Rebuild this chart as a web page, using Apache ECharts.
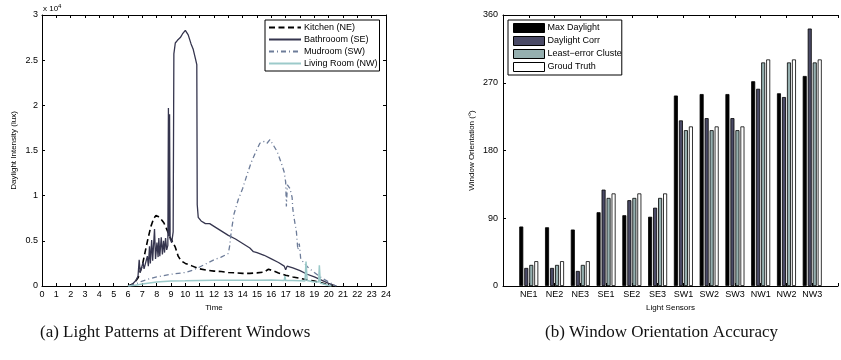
<!DOCTYPE html>
<html>
<head>
<meta charset="utf-8">
<script src="https://cdn.jsdelivr.net/npm/echarts@6/dist/echarts.min.js"></script>
<style>
  html, body { margin: 0; padding: 0; background: #fff; }
  #chart { width: 841px; height: 360px; }
</style>
</head>
<body>
<div id="chart"></div>
<script>
// ---- left panel: daylight per window (time in hours, lux) ----
const kitchenTime = [6.0, 6.4, 6.7, 7.0, 7.2, 7.4, 7.6, 7.8, 7.95, 8.1, 8.3, 8.5, 8.7, 8.9, 9.1, 9.3, 9.5, 9.7, 10.0, 10.5, 11.0, 11.5, 12.0, 12.5, 13.0, 13.5, 14.0, 14.5, 15.0, 15.5, 15.8, 16.1, 16.5, 17.0, 17.5, 18.0, 18.5, 19.0, 19.5, 20.0, 20.3];
const kitchenLux = [0, 250, 900, 2300, 3800, 5300, 6600, 7500, 7800, 7700, 7400, 7000, 6300, 5500, 4900, 4300, 3300, 2800, 2500, 2200, 1900, 1750, 1650, 1600, 1500, 1450, 1400, 1400, 1450, 1550, 1850, 1700, 1450, 1200, 1000, 850, 700, 550, 350, 120, 0];

const bathroomTime = [6.04, 6.3, 6.55, 6.7, 6.78, 6.85, 6.95, 7.05, 7.12, 7.25, 7.35, 7.42, 7.5, 7.56, 7.65, 7.72, 7.85, 7.92, 8.02, 8.1, 8.15, 8.22, 8.32, 8.4, 8.48, 8.55, 8.62, 8.7, 8.78, 8.82, 8.86, 8.9, 8.94, 9.05, 9.15, 9.2, 9.3, 9.45, 9.65, 9.8, 10.0, 10.1, 10.2, 10.4, 10.55, 10.7, 10.8, 10.83, 10.9, 11.1, 11.4, 11.7, 12.0, 12.5, 13.0, 13.5, 14.0, 14.5, 14.75, 15.0, 15.5, 16.0, 16.5, 16.9, 17.0, 17.1, 17.5, 18.0, 18.5, 19.0, 19.5, 20.0, 20.55];
const bathroomLux = [0, 200, 600, 1100, 2900, 1500, 1700, 2600, 1900, 2100, 3300, 2200, 4400, 2500, 5100, 2800, 6300, 3000, 4800, 3200, 5300, 3300, 5400, 3500, 5000, 3700, 5300, 4000, 4500, 19700, 5500, 19000, 5200, 4800, 6000, 25700, 26900, 27200, 27500, 27900, 28300, 28100, 27800, 26800, 26200, 25200, 24500, 9000, 7600, 7200, 6900, 6900, 6600, 6100, 5600, 5200, 4700, 4200, 3800, 3700, 3400, 3000, 2600, 2200, 1800, 2200, 2000, 1700, 1300, 1000, 650, 300, 0];

const mudroomTime = [6.1, 6.5, 7.0, 7.5, 8.0, 8.5, 9.0, 9.5, 10.0, 10.5, 11.0, 11.5, 12.0, 12.5, 13.0, 13.1, 13.2, 13.4, 13.7, 14.0, 14.3, 14.6, 14.9, 15.2, 15.5, 15.7, 15.9, 16.1, 16.4, 16.7, 16.9, 17.0, 17.05, 17.12, 17.3, 17.45, 17.5, 17.6, 17.75, 17.85, 17.95, 18.05, 18.3, 18.6, 19.0, 19.5, 20.0, 20.5];
const mudroomLux = [0, 200, 550, 800, 1000, 1150, 1300, 1400, 1500, 1750, 2100, 2500, 2900, 3200, 3600, 4500, 6000, 8000, 9600, 10800, 12300, 13700, 14800, 15800, 16000, 15800, 16200, 15700, 14900, 13600, 12600, 11500, 8800, 11200, 10800, 9800, 8500, 7400, 6000, 4000, 4700, 3000, 2500, 2000, 1500, 900, 450, 0];

const livingTime = [6.0, 6.5, 7.0, 7.5, 8.0, 8.5, 9.0, 10.0, 11.0, 12.0, 13.0, 14.0, 15.0, 16.0, 16.9, 16.95, 17.0, 17.5, 18.0, 18.35, 18.42, 18.5, 18.9, 19.0, 19.3, 19.35, 19.42, 19.7, 20.0, 20.2];
const livingLux = [0, 80, 220, 330, 430, 500, 550, 580, 620, 640, 650, 650, 650, 660, 620, 1100, 600, 600, 580, 560, 2700, 600, 480, 500, 450, 2300, 320, 200, 60, 0];

// ---- right panel: orientation estimates per sensor (degrees) ----
const sensors = ['NE1', 'NE2', 'NE3', 'SE1', 'SE2', 'SE3', 'SW1', 'SW2', 'SW3', 'NW1', 'NW2', 'NW3'];
const maxDaylight = [79, 78, 75, 98, 94, 92, 253, 255, 255, 272, 256, 279];
const daylightCorr = [24, 24, 20, 128, 114, 104, 220, 223, 223, 262, 251, 342];
const leastErrorCluster = [28, 28, 28, 117, 117, 117, 207, 207, 207, 297, 297, 297];
const groundTruth = [33, 33, 33, 123, 123, 123, 212, 212, 212, 301, 301, 301];

const FONT = 'Liberation Sans, Arial, sans-serif';

function pairs(xs, ys) {
    return xs.map((x, i) => [x, ys[i]]);
}

function barData(values) {
    return values.map((v, i) => [i + 1, v]);
}

const tickStyle = {show: true, inside: true, length: 3, lineStyle: {color: '#000', width: 1}};
const lineAxis = {show: true, onZero: false, lineStyle: {color: '#000', width: 1}};
const labelStyle = {color: '#000', fontSize: 9, fontFamily: FONT};

var chart = echarts.init(document.getElementById('chart'));

var option = {
    animation: false,
    backgroundColor: '#fff',
    grid: [
        {left: 42, top: 15, width: 344, height: 271},
        {left: 503, top: 15, width: 343, height: 271}
    ],
    xAxis: [
        {
            gridIndex: 0, type: 'value', min: 0, max: 24, interval: 1,
            axisLine: lineAxis, axisTick: tickStyle, splitLine: {show: false},
            axisLabel: Object.assign({margin: 4}, labelStyle),
            name: 'Time', nameLocation: 'middle', nameGap: 17,
            nameTextStyle: {color: '#000', fontSize: 8, fontFamily: FONT}
        },
        {
            gridIndex: 0, type: 'value', min: 0, max: 24, interval: 1, position: 'top',
            axisLine: lineAxis, axisTick: tickStyle, axisLabel: {show: false}, splitLine: {show: false}
        },
        {
            gridIndex: 1, type: 'value', min: 0, max: 13, interval: 1,
            axisLine: lineAxis, axisTick: tickStyle, splitLine: {show: false},
            axisLabel: Object.assign({
                margin: 4,
                formatter: v => sensors[v - 1] || ''
            }, labelStyle),
            name: 'Light Sensors', nameLocation: 'middle', nameGap: 17,
            nameTextStyle: {color: '#000', fontSize: 8, fontFamily: FONT}
        },
        {
            gridIndex: 1, type: 'value', min: 0, max: 13, interval: 1, position: 'top',
            axisLine: lineAxis, axisTick: tickStyle, axisLabel: {show: false}, splitLine: {show: false}
        }
    ],
    yAxis: [
        {
            gridIndex: 0, type: 'value', min: 0, max: 30000, interval: 5000,
            axisLine: lineAxis, axisTick: tickStyle, splitLine: {show: false},
            axisLabel: Object.assign({margin: 4, formatter: v => String(v / 10000)}, labelStyle),
            name: 'Daylight Intensity (lux)', nameLocation: 'middle', nameGap: 24,
            nameTextStyle: {color: '#000', fontSize: 8, fontFamily: FONT}
        },
        {
            gridIndex: 0, type: 'value', min: 0, max: 30000, interval: 5000, position: 'right',
            axisLine: lineAxis, axisTick: tickStyle, axisLabel: {show: false}, splitLine: {show: false}
        },
        {
            gridIndex: 1, type: 'value', min: 0, max: 360, interval: 90,
            axisLine: lineAxis, axisTick: tickStyle, splitLine: {show: false},
            axisLabel: Object.assign({margin: 5}, labelStyle),
            name: 'Window Orientation (°)', nameLocation: 'middle', nameGap: 27,
            nameTextStyle: {color: '#000', fontSize: 8, fontFamily: FONT}
        }
    ],
    legend: [
        {
            left: 265, top: 20, orient: 'vertical',
            data: ['Kitchen (NE)', 'Bathrooom (SE)', 'Mudroom (SW)', 'Living Room (NW)'],
            itemWidth: 32, itemHeight: 9, itemGap: 3,
            padding: [3, 2, 3, 3],
            borderColor: '#000', borderWidth: 1, backgroundColor: '#fff',
            itemStyle: {opacity: 0},
            textStyle: {color: '#000', fontSize: 9, fontFamily: FONT, padding: [0, 0, 0, -2]}
        },
        {
            left: 508, top: 20, orient: 'vertical',
            data: ['Max Daylight', 'Daylight Corr', 'Least−error Cluster', 'Groud Truth'],
            icon: 'rect',
            itemWidth: 31, itemHeight: 9, itemGap: 3,
            padding: [3, 0, 3, 5],
            borderColor: '#000', borderWidth: 1, backgroundColor: '#fff',
            itemStyle: {borderColor: '#000', borderWidth: 1},
            textStyle: {
                color: '#000', fontSize: 9, fontFamily: FONT,
                width: 78, overflow: 'truncate', ellipsis: '', padding: [0, 0, 0, -2]
            }
        }
    ],
    graphic: [
        {
            type: 'text', left: 43, top: 3,
            style: {
                text: '{a|x 10}{b|4}',
                rich: {
                    a: {fontSize: 8, fontFamily: FONT, fill: '#000'},
                    b: {fontSize: 6, fontFamily: FONT, fill: '#000', verticalAlign: 'top', padding: [0, 0, 5, 0]}
                }
            }
        },
        {
            type: 'text', left: 40, top: 324,
            style: {text: '(a) Light Patterns at Different Windows', fontSize: 17, fontFamily: 'Liberation Serif, Times New Roman, serif', fill: '#111'}
        },
        {
            type: 'text', left: 545, top: 324,
            style: {text: '(b) Window Orientation Accuracy', fontSize: 17, fontFamily: 'Liberation Serif, Times New Roman, serif', fill: '#111'}
        }
    ],
    series: [
        {
            name: 'Kitchen (NE)', type: 'line', xAxisIndex: 0, yAxisIndex: 0,
            data: pairs(kitchenTime, kitchenLux), showSymbol: false, symbol: 'none',
            lineStyle: {color: '#000', width: 1.6, type: [6, 3.5]}, itemStyle: {color: '#000'}
        },
        {
            name: 'Bathrooom (SE)', type: 'line', xAxisIndex: 0, yAxisIndex: 0,
            data: pairs(bathroomTime, bathroomLux), showSymbol: false, symbol: 'none',
            lineStyle: {color: '#35354e', width: 1.3}, itemStyle: {color: '#35354e'}
        },
        {
            name: 'Mudroom (SW)', type: 'line', xAxisIndex: 0, yAxisIndex: 0,
            data: pairs(mudroomTime, mudroomLux), showSymbol: false, symbol: 'none',
            lineStyle: {color: '#6d7c99', width: 1.3, type: [5, 3, 1, 3]}, itemStyle: {color: '#6d7c99'}
        },
        {
            name: 'Living Room (NW)', type: 'line', xAxisIndex: 0, yAxisIndex: 0,
            data: pairs(livingTime, livingLux), showSymbol: false, symbol: 'none',
            lineStyle: {color: '#9ccaca', width: 1.5}, itemStyle: {color: '#9ccaca'}
        },
        {
            name: 'Max Daylight', type: 'bar', xAxisIndex: 2, yAxisIndex: 2,
            data: barData(maxDaylight), barWidth: 4, barGap: '25%',
            itemStyle: {color: '#000', borderColor: '#000', borderWidth: 0.8}
        },
        {
            name: 'Daylight Corr', type: 'bar', xAxisIndex: 2, yAxisIndex: 2,
            data: barData(daylightCorr), barWidth: 4, barGap: '25%',
            itemStyle: {color: '#4a4a66', borderColor: '#000', borderWidth: 0.8}
        },
        {
            name: 'Least−error Cluster', type: 'bar', xAxisIndex: 2, yAxisIndex: 2,
            data: barData(leastErrorCluster), barWidth: 4, barGap: '25%',
            itemStyle: {color: '#95afaf', borderColor: '#000', borderWidth: 0.8}
        },
        {
            name: 'Groud Truth', type: 'bar', xAxisIndex: 2, yAxisIndex: 2,
            data: barData(groundTruth), barWidth: 4, barGap: '25%',
            itemStyle: {color: '#fff', borderColor: '#000', borderWidth: 0.8}
        }
    ]
};

chart.setOption(option);
</script>
</body>
</html>
